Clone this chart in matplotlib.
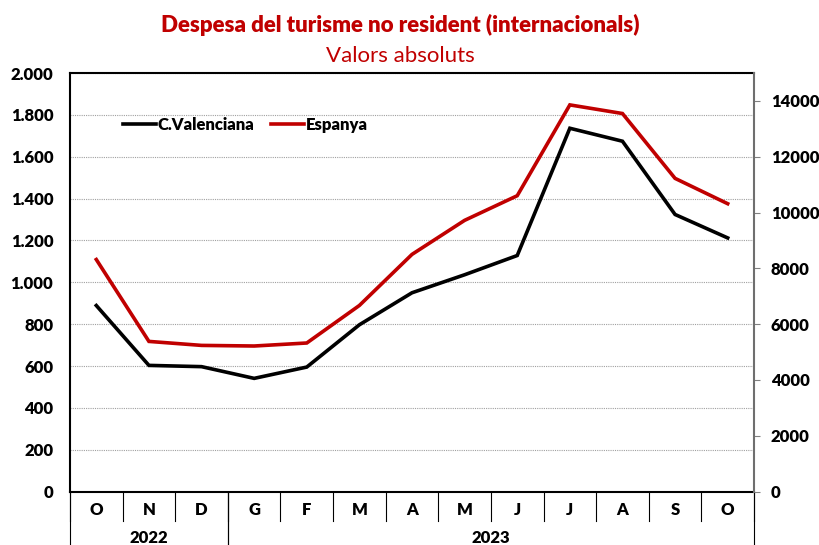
import matplotlib
matplotlib.use("Agg")
import matplotlib.pyplot as plt
from matplotlib.lines import Line2D

months = ["O", "N", "D", "G", "F", "M", "A", "M", "J", "J", "A", "S", "O"]
years = ["2022", "2023"]
year_spans = [(0, 3), (3, 13)]
cv_values = [889, 603, 597, 541, 595, 797, 950, 1036, 1128, 1736, 1674, 1324, 1212]
es_values = [8316, 5382, 5239, 5217, 5325, 6670, 8500, 9720, 10603, 13857, 13548, 11224, 10316]
left_ticks = [0, 200, 400, 600, 800, 1000, 1200, 1400, 1600, 1800, 2000]
right_ticks = [0, 2000, 4000, 6000, 8000, 10000, 12000, 14000]

plt.rcParams['font.family'] = ['Lato', 'DejaVu Sans']
RED = "#C00000"
FS = 12

fig = plt.figure(figsize=(8.19, 5.45), dpi=100)
ax = fig.add_axes([70/819, 1-491.6/545, 684/819, 418.6/545])
ax2 = ax.twinx()

x = list(range(len(months)))
ax.plot(x, cv_values, color="black", lw=2.6, label="C.Valenciana", solid_joinstyle="miter")
ax2.plot(x, es_values, color=RED, lw=2.6, label="Espanya", solid_joinstyle="miter")

ax.set_xlim(-0.5, len(months) - 0.5)
ax.set_ylim(0, 2000)
ax2.set_ylim(0, 15000)
ax.set_yticks(left_ticks)
ax.set_yticklabels([f"{v:,}".replace(",", ".") for v in left_ticks], fontsize=FS, fontweight="heavy")
ax2.set_yticks(right_ticks)
ax2.set_yticklabels([str(v) for v in right_ticks], fontsize=FS, fontweight="heavy")
ax.tick_params(axis="y", length=0, pad=12)
ax2.tick_params(axis="y", length=4, color="#808080", pad=8)
ax.set_xticks([])

ax.grid(axis="y", color="#A0A0A0", linestyle=(0, (1, 1)), lw=0.8)
ax.set_axisbelow(True)

for sp in ["top", "left", "bottom"]:
    ax.spines[sp].set_color("black")
    ax.spines[sp].set_linewidth(1.5)
ax.spines["right"].set_visible(False)
for sp in ["top", "left", "bottom"]:
    ax2.spines[sp].set_visible(False)
ax2.spines["right"].set_color("#6f6f6f")
ax2.spines["right"].set_linewidth(1.5)

# category axis
trans = ax.get_xaxis_transform()
for i in range(len(months) + 1):
    ax.add_line(Line2D([i - 0.5, i - 0.5], [0, -0.07], transform=trans, color="black", lw=0.8, clip_on=False))
for i, m in enumerate(months):
    ax.text(i, -0.045, m, transform=trans, ha="center", va="center", fontsize=FS, fontweight="heavy")
for (a, b), yr in zip(year_spans, years):
    ax.add_line(Line2D([a - 0.5, a - 0.5], [0, -0.14], transform=trans, color="black", lw=0.8, clip_on=False))
    ax.add_line(Line2D([b - 0.5, b - 0.5], [0, -0.14], transform=trans, color="black", lw=0.8, clip_on=False))
    ax.text((a + b - 1) / 2, -0.11, yr, transform=trans, ha="center", va="center", fontsize=FS, fontweight="heavy")

handles = [Line2D([], [], color="black", lw=2.6), Line2D([], [], color=RED, lw=2.6)]
ax.legend(handles, ["C.Valenciana", "Espanya"], loc="upper left", bbox_to_anchor=(0.055, 0.93),
          ncol=2, frameon=False, prop={"weight": "heavy", "size": FS}, handlelength=2.0,
          handletextpad=0.1, columnspacing=1.0)

fig.text(400/819, 1-25/545, "Despesa del turisme no resident (internacionals)", ha="center", va="center",
         color=RED, fontsize=16, fontweight="heavy")
fig.text(400/819, 1-56/545, "Valors absoluts", ha="center", va="center", color=RED, fontsize=16)

fig.savefig("out.png", dpi=100, facecolor="white")
